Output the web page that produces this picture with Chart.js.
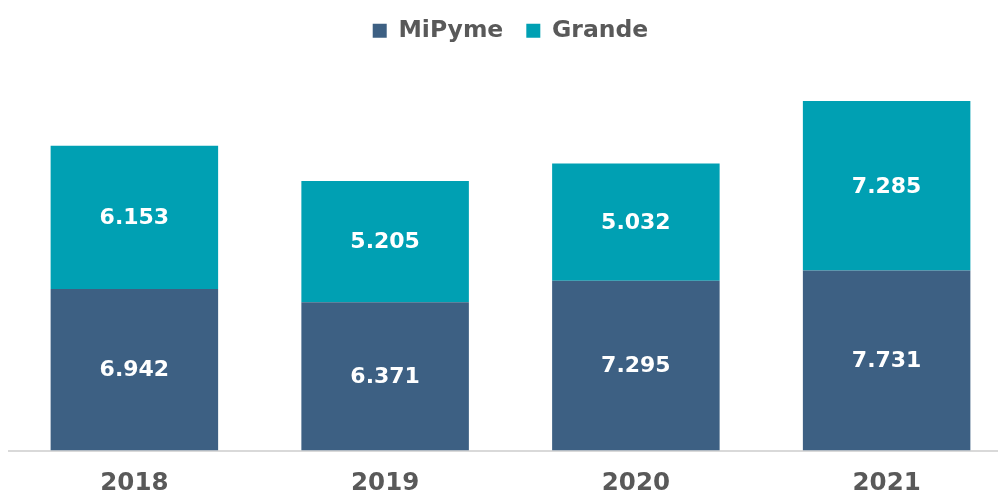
<!DOCTYPE html>
<html>
<head>
<meta charset="utf-8">
<script src="https://cdn.jsdelivr.net/npm/chart.js@4/dist/chart.umd.min.js"></script>
<style>
  html, body { margin: 0; padding: 0; background: #ffffff; overflow: hidden; }
  #wrap { position: relative; width: 1012px; height: 492px; }
</style>
</head>
<body>
<div id="wrap"><canvas id="c"></canvas></div>
<script>
const categories = ['2018', '2019', '2020', '2021'];
const mipyme = [6942, 6371, 7295, 7731];
const grande = [6153, 5205, 5032, 7285];
const seriesNames = ['MiPyme', 'Grande'];

const fmt = v => {
  const s = String(v);
  return s.length > 3 ? s.slice(0, s.length - 3) + '.' + s.slice(-3) : s;
};

const labelPlugin = {
  id: 'segLabels',
  afterDatasetsDraw(chart) {
    const ctx = chart.ctx;
    ctx.save();
    ctx.fillStyle = '#ffffff';
    ctx.font = 'bold 22px "DejaVu Sans"';
    ctx.textAlign = 'center';
    ctx.textBaseline = 'middle';
    chart.data.datasets.forEach((ds, i) => {
      const meta = chart.getDatasetMeta(i);
      meta.data.forEach((bar, j) => {
        const p = bar.getProps(['x', 'y', 'base'], true);
        ctx.fillText(fmt(ds.data[j]), p.x, (p.y + p.base) / 2 + 1);
      });
    });
    ctx.restore();
  }
};

new Chart(document.getElementById('c'), {
  type: 'bar',
  data: {
    labels: categories,
    datasets: [
      { label: seriesNames[0], data: mipyme, backgroundColor: '#3d6083' },
      { label: seriesNames[1], data: grande, backgroundColor: '#00a0b3' }
    ]
  },
  options: {
    responsive: true,
    maintainAspectRatio: false,
    animation: false,
    layout: { padding: { left: 9, right: 0, top: -4, bottom: -25 } },
    datasets: { bar: { barPercentage: 1, categoryPercentage: 0.668 } },
    plugins: {
      legend: {
        position: 'top',
        labels: {
          boxWidth: 14, boxHeight: 14, padding: 23,
          color: '#595959',
          font: { family: 'DejaVu Sans', weight: 'bold', size: 23.5 }
        }
      },
      tooltip: { enabled: false }
    },
    scales: {
      x: {
        stacked: true,
        grid: { display: false, drawTicks: false },
        border: { display: true, color: '#d9d9d9', width: 2 },
        ticks: {
          color: '#595959', padding: 21,
          font: { family: 'DejaVu Sans', weight: 'bold', size: 24.5, lineHeight: 1 }
        }
      },
      y: {
        stacked: true, display: false, min: 0, max: 17100
      }
    }
  },
  plugins: [labelPlugin]
});
</script>
</body>
</html>
